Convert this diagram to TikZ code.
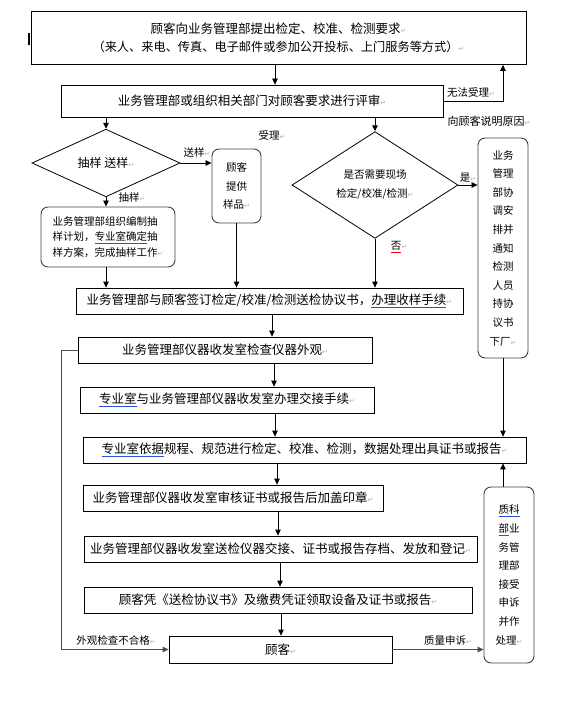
\documentclass[tikz,border=0pt]{standalone}
\usepackage{fontspec}
\setmainfont{Noto Sans CJK SC}
\newfontfamily\symfont{DejaVu Sans}
\usetikzlibrary{arrows.meta,shapes.geometric}
\definecolor{ulblue}{RGB}{40,80,220}
\newcommand{\fs}[2]{\fontsize{#1}{#2}\selectfont}
\newcommand{\ret}{{\symfont\fontsize{7}{7}\selectfont\color{gray!60}↵}}
\newcommand{\bul}[1]{{\color{ulblue}\underline{\color{black}#1}}}
\newcommand{\rul}[1]{{\color{red}\underline{\color{black}#1}}}

\begin{document}
\begin{tikzpicture}[x=1pt, y=-1pt,
  box/.style={draw, line width=0.8pt, inner sep=0pt, minimum height=26pt, align=center, font=\fs{12.5}{18}},
  rbox/.style={draw=black!75, line width=0.9pt, rounded corners=7pt, inner sep=0pt, align=center, font=\fs{10.5}{18.6}},
  dia/.style={draw, diamond, line width=0.8pt, inner sep=0pt, align=center},
  lbl/.style={inner sep=0pt, font=\fs{10.5}{12}},
  arr/.style={-{Triangle[length=6pt, width=5.5pt]}, line width=0.8pt}
]
  \useasboundingbox (0,0) rectangle (560,711);

  % request and review
  \node[box, minimum width=495pt, minimum height=53pt] (top) at (278.5,38)
    {顾客向业务管理部提出检定、校准、检测要求\ret\\
     {\fs{12.2}{18}（来人、来电、传真、电子邮件或参加公开投标、上门服务等方式）}\ret};
  \draw[line width=2pt] (29,33) -- (29,45);
  \node[box, minimum width=382pt, minimum height=32pt] (rev) at (252,101) {业务管理部或组织相关部门对顾客要求进行评审\ret};

  % branches
  \node[dia, minimum width=148pt, minimum height=49pt, font=\fs{12}{14}] (dia1) at (106,163) {抽样 送样\ret};
  \node[dia, minimum width=166pt, minimum height=76pt, font=\fs{10.5}{19}] (dia2) at (375,185) {是否需要现场\\检定/校准/检测\ret};
  \node[rbox, minimum width=49pt, minimum height=74pt, font=\fs{10.5}{18.5}] (smp) at (236.5,186) {顾客\\提供\\样品\ret};
  \node[rbox, minimum width=134pt, minimum height=60pt, align=left, font=\fs{10.5}{15.5}] (cho) at (108,237)
    {业务管理部组织编制抽\\样计划，\bul{专业室确定}抽\\样方案，完成抽样工作\ret};
  \node[rbox, minimum width=50pt, minimum height=220pt] (onsite) at (503,248)
    {业务\\管理\\部协\\调安\\排并\\通知\\检测\\人员\\持协\\议书\\下厂\ret};

  % main column
  \node[box, minimum width=387pt] (contract) at (269.5,301) {业务管理部与顾客签订检定/校准/检测送检协议书，\bul{办理收样手续}\ret};
  \node[box, minimum width=294pt] (look) at (225,350) {业务管理部仪器收发室检查仪器外观\ret};
  \node[box, minimum width=294pt] (hand) at (227,400) {\bul{专业室}与业务管理部仪器收发室办理交接手续\ret};
  \node[box, minimum width=443pt] (test) at (304.5,450) {\bul{专业室依据}规程、规范进行检定、校准、检测，数据处理出具证书或报告\ret};
  \node[box, minimum width=300pt] (seal) at (233,498) {业务管理部仪器收发室审核证书或报告后加盖印章\ret};
  \node[box, minimum width=393pt] (send) at (280.5,549) {业务管理部仪器收发室送检仪器交接、证书或报告存档、发放和登记\ret};
  \node[box, minimum width=388pt] (fetch) at (278,600) {顾客凭《送检协议书》及缴费凭证领取设备及证书或报告\ret};
  \node[box, minimum width=223pt, minimum height=27pt] (cust) at (280.5,649.5) {顾客\ret};
  \node[rbox, minimum width=50pt, minimum height=176pt] (appeal) at (509,575)
    {\bul{质科}\\\bul{部}业\\务管\\理部\\接受\\申诉\\并作\\处理\ret};

  % labels
  \node[lbl] (nolbl) at (471,92) {无法受理\ret};
  \node[lbl, font=\fs{11}{12}] (why) at (489,121) {向顾客说明原因\ret};
  \node[lbl] (acc) at (272,135) {受理\ret};
  \node[lbl] (sendlbl) at (197,153) {送样\ret};
  \node[lbl] (drawlbl) at (132,197) {抽样\ret};
  \node[lbl] (yes) at (468,178) {是\ret};
  \node[lbl] (no) at (399,247) {\rul{否}\ret};
  \node[lbl] (bad) at (116,640) {外观检查不合格\ret};
  \node[lbl] (cmp) at (448,640) {质量申诉\ret};

  % connectors
  \foreach \a/\b/\x in {top/rev/275, contract/look/272, look/hand/274, hand/test/275,
                        test/seal/277, seal/send/278, send/fetch/280, fetch/cust/281}
    \draw[arr] (\x,0 |- \a.south) -- (\x,0 |- \b.north);
  \draw[arr] (rev.east) -| (onsite.north |- top.south);
  \draw[arr] (dia1 |- rev.south) -- (dia1.north);
  \draw[arr] (dia2 |- rev.south) -- (dia2.north);
  \draw[arr] (dia1.east) -- (smp.west |- dia1.east);
  \draw[arr] (dia1.south) -- (dia1.south |- cho.north);
  \draw[arr] (dia1 |- cho.south) -- (dia1 |- contract.north);
  \draw[arr] (smp.south) -- (smp.south |- contract.north);
  \draw[arr] (dia2.south) -- (dia2.south |- contract.north);
  \draw[arr] (dia2.east) -- (onsite.west |- dia2.east);
  \draw[arr] (onsite.south) -- (onsite.south |- test.north);
  \draw[arr, black!70] (look.west) -- ++(-16,0) |- (cust.west);
  \draw[arr, black!70] (cust.east) -- (appeal.west |- cust.east);
  \draw[arr] (onsite |- appeal.north) -- (onsite |- test.south);
\end{tikzpicture}
\end{document}
